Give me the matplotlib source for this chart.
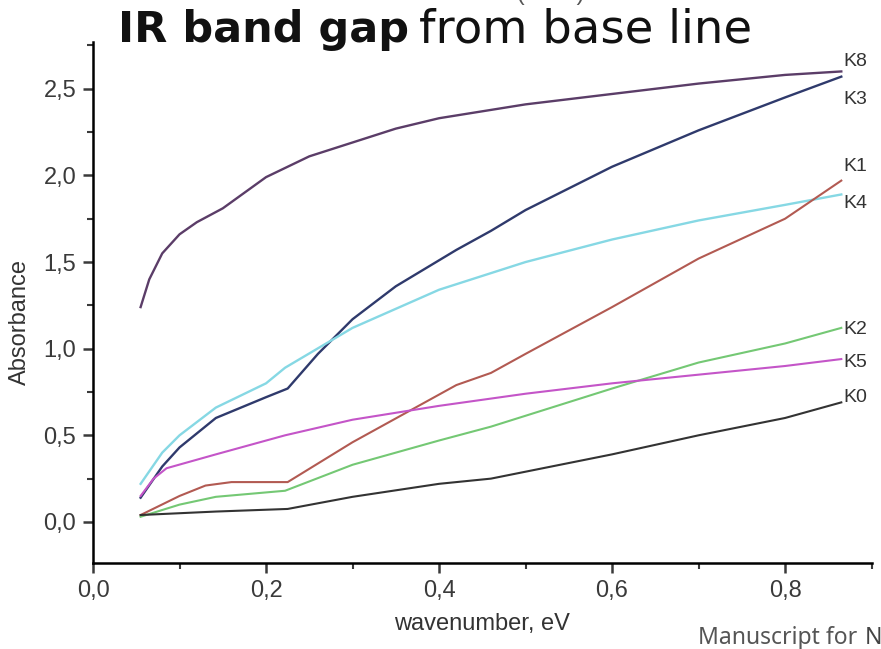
import matplotlib.pyplot as plt
from matplotlib.ticker import FuncFormatter, MultipleLocator

# data
x_k8 = [0.055, 0.065, 0.08, 0.1, 0.12, 0.15, 0.2, 0.25, 0.3, 0.35, 0.4, 0.5, 0.6, 0.7, 0.8, 0.865]
y_k8 = [1.24, 1.40, 1.55, 1.66, 1.73, 1.81, 1.99, 2.11, 2.19, 2.27, 2.33, 2.41, 2.47, 2.53, 2.58, 2.60]

x_k3 = [0.055, 0.08, 0.1, 0.142, 0.2, 0.225, 0.26, 0.3, 0.35, 0.42, 0.46, 0.5, 0.6, 0.7, 0.8, 0.865]
y_k3 = [0.14, 0.32, 0.43, 0.60, 0.72, 0.77, 0.97, 1.17, 1.36, 1.57, 1.68, 1.80, 2.05, 2.26, 2.45, 2.57]

x_k4 = [0.055, 0.08, 0.1, 0.142, 0.2, 0.222, 0.3, 0.4, 0.5, 0.6, 0.7, 0.8, 0.865]
y_k4 = [0.22, 0.40, 0.50, 0.66, 0.80, 0.89, 1.12, 1.34, 1.50, 1.63, 1.74, 1.83, 1.89]

x_k1 = [0.055, 0.1, 0.13, 0.16, 0.225, 0.3, 0.42, 0.46, 0.5, 0.6, 0.7, 0.8, 0.865]
y_k1 = [0.04, 0.15, 0.21, 0.23, 0.23, 0.46, 0.79, 0.86, 0.97, 1.24, 1.52, 1.75, 1.97]

x_k2 = [0.055, 0.1, 0.142, 0.222, 0.3, 0.4, 0.46, 0.6, 0.7, 0.8, 0.865]
y_k2 = [0.03, 0.10, 0.145, 0.18, 0.33, 0.47, 0.55, 0.77, 0.92, 1.03, 1.12]

x_k5 = [0.055, 0.07, 0.085, 0.142, 0.222, 0.3, 0.4, 0.5, 0.6, 0.7, 0.8, 0.865]
y_k5 = [0.15, 0.25, 0.31, 0.39, 0.50, 0.59, 0.67, 0.74, 0.80, 0.85, 0.90, 0.94]

x_k0 = [0.055, 0.142, 0.225, 0.3, 0.4, 0.46, 0.6, 0.7, 0.8, 0.865]
y_k0 = [0.04, 0.06, 0.075, 0.145, 0.22, 0.25, 0.39, 0.50, 0.60, 0.69]

labels = ["K8", "K3", "K1", "K4", "K2", "K5", "K0"]
label_y = [2.66, 2.44, 2.05, 1.84, 1.11, 0.92, 0.72]

plt.rcParams['font.family'] = ['Liberation Sans', 'DejaVu Sans']

fig = plt.figure(figsize=(8.81, 6.49), dpi=100)
ax = fig.add_axes([0.1056, 0.1325, 0.8837, 0.8028])

ax.plot(x_k8, y_k8, color="#5b3d68", lw=1.7)
ax.plot(x_k3, y_k3, color="#2f3a6c", lw=1.7)
ax.plot(x_k4, y_k4, color="#86d8e4", lw=1.7)
ax.plot(x_k1, y_k1, color="#b25a52", lw=1.5)
ax.plot(x_k2, y_k2, color="#74c874", lw=1.5)
ax.plot(x_k5, y_k5, color="#c455c8", lw=1.5)
ax.plot(x_k0, y_k0, color="#333333", lw=1.5)

# curve labels at the right end
for lab, yy in zip(labels, label_y):
    ax.text(0.867, yy, lab, fontsize=14, color="#333333", va="center", ha="left", clip_on=False)

ax.set_xlim(0, 0.9)
ax.set_ylim(-0.237, 2.77)
ax.xaxis.set_major_locator(MultipleLocator(0.2))
ax.xaxis.set_minor_locator(MultipleLocator(0.1))
ax.yaxis.set_major_locator(MultipleLocator(0.5))
ax.yaxis.set_minor_locator(MultipleLocator(0.25))
comma = FuncFormatter(lambda v, p: f"{v:.1f}".replace(".", ","))
ax.xaxis.set_major_formatter(comma)
ax.yaxis.set_major_formatter(comma)

for s in ["top", "right"]:
    ax.spines[s].set_visible(False)
ax.spines["left"].set_linewidth(1.8)
ax.spines["bottom"].set_linewidth(1.8)
ax.tick_params(which="major", length=7, width=1.8, labelsize=17, colors="#3a3a3a", pad=5)
ax.tick_params(which="minor", length=4, width=1.5, colors="#3a3a3a")

ax.set_xlabel("wavenumber, eV", fontsize=17, color="#333333", labelpad=8)
ax.set_ylabel("Absorbance", fontsize=17, color="#333333")
ax.yaxis.set_label_coords(-0.08, 0.463)

# title: bold part + normal part
fig.text(0.134, 0.935, "IR band gap", fontsize=31, fontweight="bold", family="DejaVu Sans",
         color="#111111", ha="left", va="baseline")
fig.text(0.476, 0.935, "from base line", fontsize=33.5, family="DejaVu Sans",
         color="#111111", ha="left", va="baseline")

# leftover of the original top axis label, cut by the image edge
fig.text(0.545, 0.9995, "wavenumber (cm⁻¹)", fontsize=17, color="#555555", ha="center", va="baseline")

fig.text(0.792, 0.008, "Manuscript for", fontsize=16.5, color="#555555", family="Noto Sans",
         ha="left", va="baseline")
fig.text(0.982, 0.008, "N", fontsize=16.5, color="#444444", family="Noto Sans", fontweight="bold",
         ha="left", va="baseline")

fig.savefig("out.png", dpi=100)
